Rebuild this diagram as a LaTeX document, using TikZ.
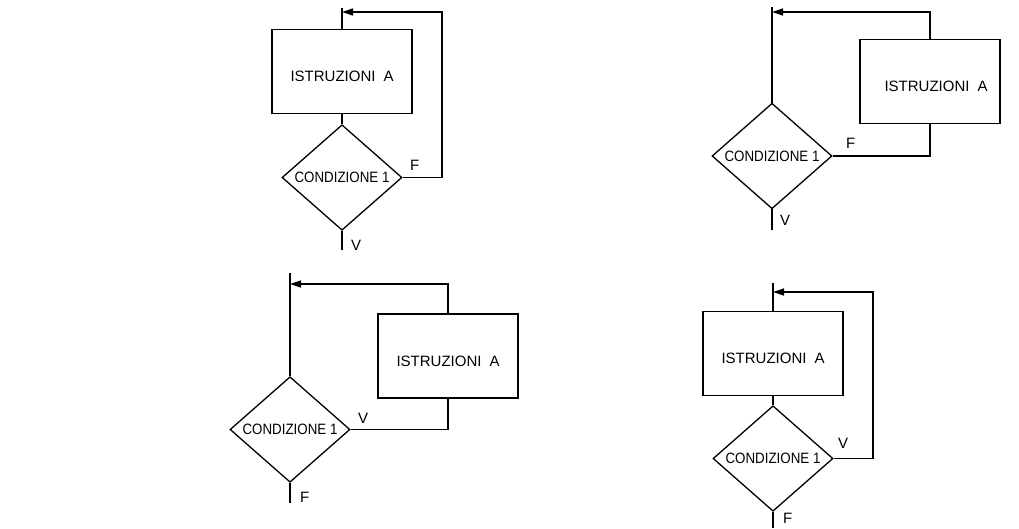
\documentclass[tikz,border=0pt]{standalone}
\usepackage{fontspec}
\setmainfont{Liberation Sans}
\newfontfamily\condfont[FakeStretch=0.89]{Liberation Sans}
\usetikzlibrary{arrows.meta,positioning,shapes.geometric}

\begin{document}
\begin{tikzpicture}[
x=1pt, y=-1pt,
font=\fontsize{15}{17}\selectfont,
box/.style={draw, line width=1.3pt, minimum width=140pt, minimum height=84pt, inner sep=0pt, text height=20pt, text depth=0pt},
cond/.style={draw, diamond, line width=1.3pt, minimum width=120pt, minimum height=104pt, inner sep=0pt, font=\condfont\fontsize{15}{17}\selectfont},
line/.style={line width=1.3pt},
arrow/.style={line width=1.3pt, -{Triangle[length=11pt,width=7pt]}},
lab/.style={inner sep=0pt, anchor=base west}
]
\useasboundingbox (0,0) rectangle (1019,528);

% ciclo a condizione finale, uscita su V
\node[box] (a1) at (342,71.5) {ISTRUZIONI\hspace{8pt}A};
\node[cond] (c1) at (342,177.5) {CONDIZIONE 1};
\coordinate (t1) at (342,8);
\coordinate (r1) at (442,12);
\coordinate (e1) at (342,250);
\draw[line] (t1) -- (a1.north);
\draw[line] (a1) -- (c1);
\draw[arrow] (c1.east) -| (r1) -- (t1 |- r1);
\draw[line] (c1.south) -- (e1);
\node[lab] (f1) at (410,170) {F};
\node[lab] (v1) at (351,250) {V};

% ciclo a condizione iniziale, uscita su V
\node[box] (a2) at (930,81.5) {\hspace{12pt}ISTRUZIONI\hspace{8pt}A};
\node[cond] (c2) at (772,156) {CONDIZIONE 1};
\coordinate (t2) at (772,7);
\coordinate (r2) at (930,12);
\coordinate (e2) at (772,230);
\draw[line] (t2) -- (c2.north);
\draw[line] (c2.east) -| (a2.south);
\draw[arrow] (a2.north) -- (r2) -- (t2 |- r2);
\draw[line] (c2.south) -- (e2);
\node[lab] (f2) at (846,148) {F};
\node[lab] (v2) at (780,225) {V};

% ciclo a condizione iniziale, uscita su F
\node[box] (a3) at (448,356) {ISTRUZIONI\hspace{8pt}A};
\node[cond] (c3) at (290,429.5) {CONDIZIONE 1};
\coordinate (t3) at (290,273);
\coordinate (r3) at (448,284);
\coordinate (e3) at (290,503);
\draw[line] (t3) -- (c3.north);
\draw[line] (c3.east) -| (a3.south);
\draw[arrow] (a3.north) -- (r3) -- (t3 |- r3);
\draw[line] (c3.south) -- (e3);
\node[lab] (v3) at (358,423) {V};
\node[lab] (f3) at (300,502) {F};

% ciclo a condizione finale, uscita su F
\node[box] (a4) at (773,353.5) {ISTRUZIONI\hspace{8pt}A};
\node[cond] (c4) at (773,458.5) {CONDIZIONE 1};
\coordinate (t4) at (773,283);
\coordinate (r4) at (873,292);
\coordinate (e4) at (773,528);
\draw[line] (t4) -- (a4.north);
\draw[line] (a4) -- (c4);
\draw[arrow] (c4.east) -| (r4) -- (t4 |- r4);
\draw[line] (c4.south) -- (e4);
\node[lab] (v4) at (838,448) {V};
\node[lab] (f4) at (783,523) {F};
\end{tikzpicture}
\end{document}
